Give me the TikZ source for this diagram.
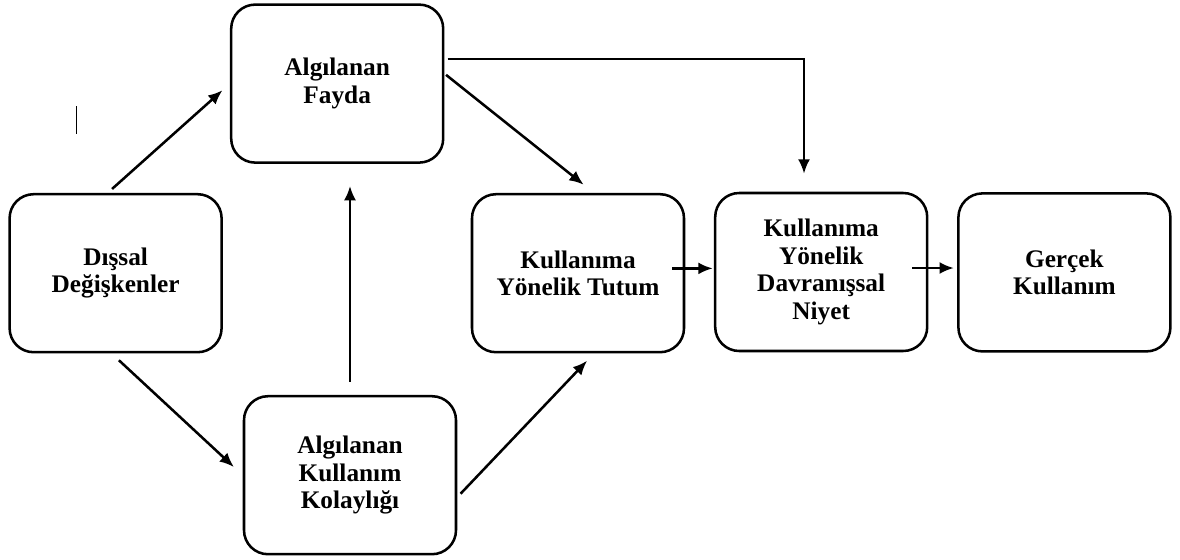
\documentclass[tikz,border=0pt]{standalone}
\usepackage{fontspec}
\setmainfont{Liberation Serif}
\usetikzlibrary{arrows.meta}
\begin{document}
\begin{tikzpicture}[line width=1.8pt,
    box/.style={draw, rounded corners=0.6cm, minimum width=5.3cm, minimum height=3.95cm,
      inner sep=0pt, align=center, font=\fontsize{18}{19.5}\selectfont\bfseries},
    arr/.style={-{Latex[length=0.36cm, width=0.3cm]}}]
    \useasboundingbox (0, 0) rectangle (29.5, -14);

    \node[box] (dis) at (2.89, -6.83) {Dışsal\\Değişkenler};

    \node[box] (fayda) at (8.43, -2.09) {Algılanan\\Fayda};
    \node[box] (kolay) at (8.75, -11.88) {Algılanan\\Kullanım\\Kolaylığı};

    \node[box] (tutum) at (14.45, -6.83) {Kullanıma\\Yönelik Tutum};
    \node[box] (niyet) at (20.53, -6.8) {Kullanıma\\Yönelik\\Davranışsal\\Niyet};
    \node[box] (gercek) at (26.61, -6.81) {Gerçek\\Kullanım};

    % stray mark
    \draw[line width=0.6pt] (1.9, -2.65) -- (1.9, -3.35);

    \draw[arr, shorten <=0.15cm, shorten >=0.25cm] ([xshift=-0.2cm]dis.north)
    -- (fayda.west);
    \draw[arr, shorten <=0.25cm, shorten >=0.3cm] ([xshift=-0.1cm]dis.south)
    -- (kolay.west);

    \draw[arr, shorten <=0.33cm, shorten >=0.55cm] (kolay.north)
    -- (kolay.north |- fayda.south);

    \draw[arr, shorten <=0.05cm, shorten >=0.33cm] ([yshift=0.25cm]fayda.east)
    -- ([xshift=0.4cm]tutum.north);
    \draw[arr, shorten <=0.12cm, shorten >=0.25cm] ([yshift=-0.55cm]kolay.east)
    -- ([xshift=0.4cm]tutum.south);

    \draw[arr, shorten <=0.08cm, shorten >=0.45cm] ([yshift=0.61cm]fayda.east)
    -| ([xshift=-0.43cm]niyet.north);

    \draw[arr, shorten <=-0.33cm, shorten >=0.03cm] ([yshift=0.12cm]tutum.east)
    -- ([yshift=0.12cm]tutum.east -| niyet.west);
    \draw[arr, shorten <=-0.4cm, shorten >=0.08cm] ([yshift=0.1cm]niyet.east)
    -- ([yshift=0.1cm]niyet.east -| gercek.west);

  \end{tikzpicture}
\end{document}
